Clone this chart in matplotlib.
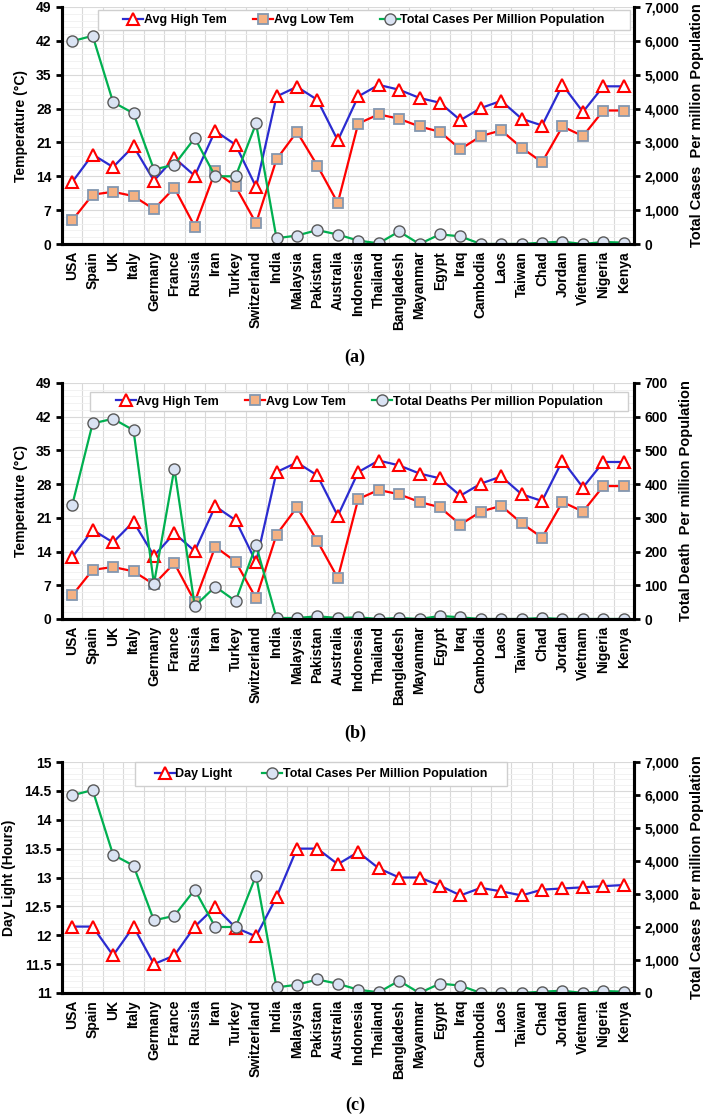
import numpy as np
import matplotlib.pyplot as plt
from matplotlib.patches import Rectangle
from matplotlib.ticker import FuncFormatter, MultipleLocator, AutoMinorLocator

plt.rcParams['font.family'] = ['Liberation Sans', 'DejaVu Sans']
plt.rcParams['font.weight'] = 'bold'

countries = ['USA', 'Spain', 'UK', 'Italy', 'Germany', 'France', 'Russia', 'Iran',
             'Turkey', 'Switzerland', 'India', 'Malaysia', 'Pakistan', 'Australia',
             'Indonesia', 'Thailand', 'Bangladesh', 'Mayanmar', 'Egypt', 'Iraq',
             'Cambodia', 'Laos', 'Taiwan', 'Chad', 'Jordan', 'Vietnam', 'Nigeria', 'Kenya']

avg_high = [12.8, 18.5, 15.9, 20.2, 13.1, 17.8, 14.1, 23.4, 20.5, 11.8,
            30.5, 32.5, 29.8, 21.4, 30.5, 32.9, 31.9, 30.2, 29.2, 25.6,
            28.1, 29.6, 25.9, 24.5, 32.9, 27.3, 32.6, 32.6]
avg_low = [4.9, 10.2, 10.8, 9.9, 7.2, 11.6, 3.6, 15.0, 11.9, 4.3,
           17.5, 23.2, 16.2, 8.5, 24.9, 26.8, 25.9, 24.3, 23.2, 19.6,
           22.3, 23.5, 19.9, 16.9, 24.3, 22.3, 27.6, 27.6]
cases_pm = [5990, 6150, 4190, 3860, 2200, 2340, 3130, 2000, 2000, 3560,
            170, 250, 410, 280, 100, 20, 370, 0, 285, 225,
            0, 0, 0, 40, 70, 0, 60, 40]
deaths_pm = [338, 580, 594, 560, 104, 446, 38, 96, 53, 219,
             3, 3, 8, 3, 5, 0, 3, 0, 9, 5,
             0, 0, 0, 3, 0, 0, 0, 0]
day_light = [12.15, 12.15, 11.65, 12.15, 11.5, 11.65, 12.15, 12.49, 12.13, 11.98,
             12.66, 13.5, 13.5, 13.23, 13.44, 13.16, 13.0, 13.0, 12.86, 12.69,
             12.82, 12.76, 12.69, 12.79, 12.81, 12.83, 12.85, 12.87]

x = np.arange(len(countries))

BLUE = '#2b2bd0'
RED = '#ff0000'
GREEN = '#00b050'

fig = plt.figure(figsize=(7.11, 11.2), dpi=100)

L, W = 62 / 711, 572 / 711
panels = [(244, 237), (619, 236), (993, 231)]


def style_axes(ax, ax2):
    ax.set_xlim(-0.5, len(countries) - 0.5)
    ax.set_xticks(x)
    ax.set_xticklabels(countries, rotation=90, fontsize=10, fontweight='bold')
    ax.set_xticks(np.arange(-0.5, len(countries), 1), minor=True)
    ax.tick_params(axis='x', which='both', length=0, pad=5)
    ax.tick_params(axis='y', which='major', direction='out', length=4, width=2, labelsize=10)
    ax.tick_params(axis='y', which='minor', length=0)
    ax2.tick_params(axis='y', which='major', direction='out', length=4, width=2, labelsize=10)
    ax2.tick_params(axis='y', which='minor', length=0)
    ax.grid(True, axis='x', which='minor', color='#d9d9d9', lw=0.8)
    ax.grid(True, axis='y', which='major', color='#d9d9d9', lw=0.8)
    ax.grid(True, axis='y', which='minor', color='#f0f0f0', lw=0.6)
    ax.set_axisbelow(True)
    for a in (ax, ax2):
        a.spines['top'].set_visible(False)
        for s in ('left', 'right', 'bottom'):
            a.spines[s].set_linewidth(2.2)
    for lab in ax.get_yticklabels() + ax2.get_yticklabels():
        lab.set_fontweight('bold')


def comma(v, p):
    return f'{int(v):,}'


def boxed_legend(ax2, handles, box, colsp):
    # box = (x0, y0, w, h) in axes fraction
    ax2.add_patch(Rectangle(box[:2], box[2], box[3], transform=ax2.transAxes,
                            facecolor='white', edgecolor='#cfcfcf', lw=1.0,
                            zorder=5, clip_on=False))
    leg = ax2.legend(handles, [h.get_label() for h in handles], loc='center',
                     bbox_to_anchor=(box[0] + box[2] / 2, box[1] + box[3] / 2),
                     ncol=len(handles), frameon=False,
                     prop={'weight': 'bold', 'size': 9}, handlelength=1.6,
                     handletextpad=0.05, columnspacing=colsp, borderpad=0)
    leg.set_zorder(6)


high_kw = dict(color=BLUE, lw=1.6, marker='^', ms=8, mfc='white', mec=RED, mew=1.5)
low_kw = dict(color=RED, lw=1.6, marker='s', ms=7, mfc='#f4b183', mec='#8497b0', mew=1.3)
case_kw = dict(color=GREEN, lw=1.6, marker='o', ms=8, mfc='#dae3f3', mec='#595959', mew=1.0)

# (a) and (b): temperature vs cases / deaths
for idx, (second, rlabel, rmax, rstep, leg_name, box) in enumerate([
        (cases_pm, 'Total Cases  Per million Population', 7000, 1000,
         'Total Cases Per Million Population', (0.063, 0.903, 0.930, 0.084)),
        (deaths_pm, 'Total Death  Per million Population', 700, 100,
         'Total Deaths Per million Population', (0.049, 0.881, 0.9406, 0.081))]):
    bot, h = panels[idx]
    ax = fig.add_axes([L, 1 - bot / 1120, W, h / 1120])
    ax2 = ax.twinx()
    l1, = ax.plot(x, avg_high, label='Avg High Tem', **high_kw)
    l2, = ax.plot(x, avg_low, label='Avg Low Tem', **low_kw)
    l3, = ax2.plot(x, second, label=leg_name, **case_kw)
    ax.set_ylim(0, 49)
    ax.yaxis.set_major_locator(MultipleLocator(7))
    ax.yaxis.set_minor_locator(AutoMinorLocator(5))
    ax2.set_ylim(0, rmax)
    ax2.yaxis.set_major_locator(MultipleLocator(rstep))
    ax2.yaxis.set_major_formatter(FuncFormatter(comma))
    ax.set_ylabel('Temperature (°C)', fontsize=10, fontweight='bold', labelpad=6)
    ax2.set_ylabel(rlabel, fontsize=10.5, fontweight='bold', labelpad=8)
    style_axes(ax, ax2)
    boxed_legend(ax2, [l1, l2, l3], box, 2.1)

# (c): day light vs cases
bot, h = panels[2]
ax = fig.add_axes([L, 1 - bot / 1120, W, h / 1120])
ax2 = ax.twinx()
l1, = ax.plot(x, day_light, label='Day Light', **high_kw)
l3, = ax2.plot(x, cases_pm, label='Total Cases Per Million Population', **case_kw)
ax.set_ylim(11, 15)
ax.yaxis.set_major_locator(MultipleLocator(0.5))
ax.yaxis.set_minor_locator(AutoMinorLocator(5))
ax.yaxis.set_major_formatter(FuncFormatter(lambda v, p: f'{v:g}'))
ax2.set_ylim(0, 7000)
ax2.yaxis.set_major_locator(MultipleLocator(1000))
ax2.yaxis.set_major_formatter(FuncFormatter(comma))
ax.set_ylabel('Day Light (Hours)', fontsize=10, fontweight='bold', labelpad=6)
ax2.set_ylabel('Total Cases  Per million Population', fontsize=10.5, fontweight='bold', labelpad=8)
style_axes(ax, ax2)
boxed_legend(ax2, [l1, l3], (0.1276, 0.896, 0.650, 0.104), 2.4)

for cap, yy in [('(a)', 357), ('(b)', 733), ('(c)', 1105)]:
    fig.text(355 / 711, 1 - yy / 1120, cap, ha='center', va='center',
             fontsize=13, fontweight='bold', family=['Liberation Serif', 'DejaVu Serif'])

fig.savefig('out.png', dpi=100)
